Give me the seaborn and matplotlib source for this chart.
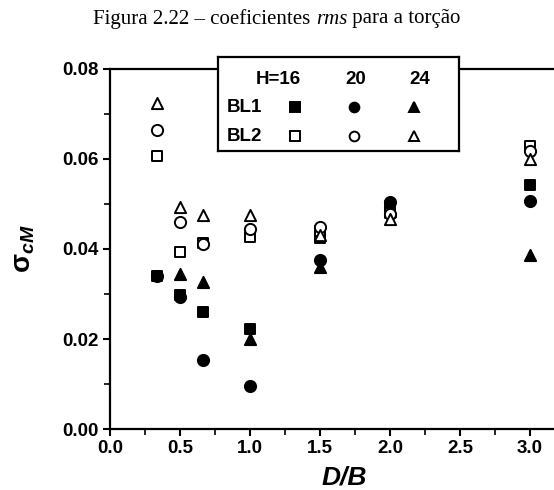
import numpy as np
import pandas as pd
import matplotlib
matplotlib.use("Agg")
import matplotlib.pyplot as plt
import seaborn as sns

# ---- data ----
db = [1/3, 0.5, 2/3, 1.0, 1.5, 2.0, 3.0]
bl1_h16 = [0.0340, 0.0298, 0.0261, 0.0222, 0.0424, 0.0495, 0.0542]
bl1_h20 = [0.0339, 0.0294, 0.0153, 0.0096, 0.0376, 0.0505, 0.0507]
bl1_h24 = [np.nan, 0.0344, 0.0327, 0.0199, 0.0360, 0.0485, 0.0387]
bl2_h16 = [0.0607, 0.0394, 0.0414, 0.0426, 0.0440, 0.0480, 0.0629]
bl2_h20 = [0.0664, 0.0460, 0.0412, 0.0444, 0.0448, 0.0477, 0.0618]
bl2_h24 = [0.0724, 0.0494, 0.0476, 0.0476, 0.0430, 0.0466, 0.0600]
heights = ["16", "20", "24"]
layers = ["BL1", "BL2"]
x_ticks = [0.0, 0.5, 1.0, 1.5, 2.0, 2.5, 3.0]
y_ticks = [0.00, 0.02, 0.04, 0.06, 0.08]

series = {
    ("BL1", "16"): bl1_h16, ("BL1", "20"): bl1_h20, ("BL1", "24"): bl1_h24,
    ("BL2", "16"): bl2_h16, ("BL2", "20"): bl2_h20, ("BL2", "24"): bl2_h24,
}
rows = []
for (bl, h), vals in series.items():
    for x, v in zip(db, vals):
        rows.append({"D/B": x, "sigma": v, "BL": bl, "H": h})
df = pd.DataFrame(rows).dropna()

sns.set_theme(style="ticks", rc={"text.color": "black", "axes.labelcolor": "black",
                                 "xtick.color": "black", "ytick.color": "black",
                                 "axes.edgecolor": "black"})
plt.rcParams["font.family"] = ["Liberation Sans", "DejaVu Sans"]
plt.rcParams["mathtext.fontset"] = "custom"
plt.rcParams["mathtext.it"] = "Liberation Sans:italic:bold"
plt.rcParams["mathtext.rm"] = "Liberation Sans:bold"

W, H = 554, 490
fig = plt.figure(figsize=(W / 100, H / 100), dpi=100)
ax = fig.add_axes([110 / W, (H - 429) / H, (578 - 110) / W, (429 - 69) / H])

markers = {"16": "s", "20": "o", "24": "^"}
sizes = {"16": 60, "20": 65, "24": 65}
for bl in layers:
    for h in heights:
        sub = df[(df.BL == bl) & (df.H == h)]
        filled = bl == "BL1"
        sns.scatterplot(data=sub, x="D/B", y="sigma", ax=ax, marker=markers[h],
                        s=sizes[h], facecolor="black" if filled else "white",
                        edgecolor="black", linewidth=1.4, zorder=3, legend=False)

ax.set_xlim(0, 3.343)
ax.set_ylim(0, 0.08)
ax.set_xticks(x_ticks)
ax.set_xticklabels([f"{t:.1f}" for t in x_ticks])
ax.set_yticks(y_ticks)
ax.set_yticklabels([f"{t:.2f}" for t in y_ticks])
ax.set_xticks(np.arange(0.25, 3.3, 0.5), minor=True)
ax.set_yticks([0.01, 0.03, 0.05, 0.07], minor=True)
ax.tick_params(which="major", direction="out", length=5, width=1.5, labelsize=13.5, pad=3)
ax.tick_params(which="minor", direction="out", length=4, width=1.2)
for lab in ax.get_xticklabels() + ax.get_yticklabels():
    lab.set_fontweight("bold")
for s in ["left", "bottom", "top"]:
    ax.spines[s].set_linewidth(1.6)
ax.spines["right"].set_visible(False)
ax.set_xlabel("D/B", fontsize=19, fontweight="bold", style="italic", labelpad=6)
ax.set_ylabel(r"$\mathrm{\sigma}_{cM}$", fontsize=20, labelpad=18)

# title composed from three pieces
t1 = "Figura 2.22 \u2013 coeficientes "
t2 = "rms"
t3 = " para a torção"
title_y = 1 - 19 / H
tfs = 15
tx1 = fig.text(0, title_y, t1, fontsize=tfs, family="Liberation Serif", va="center")
tx2 = fig.text(0, title_y, t2, fontsize=tfs, family="Liberation Serif", style="italic", va="center")
tx3 = fig.text(0, title_y, t3, fontsize=tfs, family="Liberation Serif", va="center")
fig.canvas.draw()
r = fig.canvas.get_renderer()
w1 = tx1.get_window_extent(r).width
w2 = tx2.get_window_extent(r).width
w3 = tx3.get_window_extent(r).width
start = 277 - (w1 + w2 + w3) / 2
tx1.set_x(start / W)
tx2.set_x((start + w1) / W)
tx3.set_x((start + w1 + w2) / W)

# legend table
lg = fig.add_axes([218 / W, (H - 151) / H, 241 / W, 94 / H])
lg.set_xlim(218, 459)
lg.set_ylim(151, 57)
lg.set_xticks([])
lg.set_yticks([])
lg.set_facecolor("white")
for s in lg.spines.values():
    s.set_linewidth(1.6)
    s.set_color("black")
col_x = {"16": 295, "20": 354, "24": 414}
row_y = {"BL1": 107, "BL2": 136}
lg.text(278, 79, "H=16", ha="center", va="center", fontsize=13.5, fontweight="bold")
lg.text(356, 79, "20", ha="center", va="center", fontsize=13.5, fontweight="bold")
lg.text(420, 79, "24", ha="center", va="center", fontsize=13.5, fontweight="bold")
for bl in layers:
    lg.text(244, row_y[bl], bl, ha="center", va="center", fontsize=13.5, fontweight="bold")
    for h in heights:
        filled = bl == "BL1"
        lg.plot([col_x[h]], [row_y[bl]], marker=markers[h], markersize=7,
                mfc="black" if filled else "white", mec="black", mew=1.4, ls="none")

fig.savefig("out.png", dpi=100)
